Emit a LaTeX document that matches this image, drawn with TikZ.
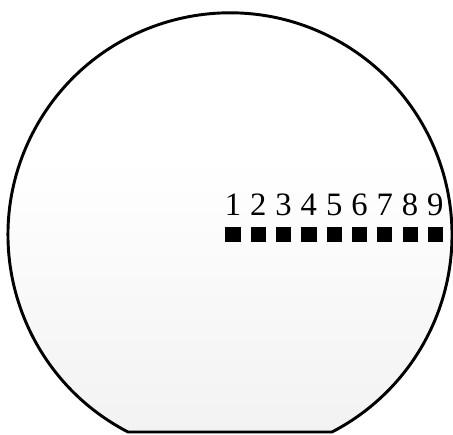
\documentclass[tikz,border=0pt]{standalone}
\usepackage{fontspec}
\setmainfont{Liberation Serif}
\usetikzlibrary{fadings}
\tikzset{
  wafer/.style={draw=black, line width=2.2pt},
  die/.style={fill=black, draw=none, minimum size=11.4pt, inner sep=0pt},
  dienum/.style={font=\fontsize{24.5}{24.5}\selectfont, inner sep=0pt}
}
\begin{document}
\begin{tikzpicture}[x=0.75pt,y=-0.75pt]
\useasboundingbox (0,0) rectangle (453,435);
% wafer outline with bottom flat
\begin{scope}
\clip (128,432) arc[start angle=117.35, end angle=422.65, radius=222] -- cycle;
\fill[black!5, path fading=north] (0,160) rectangle (453,435);
\end{scope}
\draw[wafer] (128,432) arc[start angle=117.35, end angle=422.65, radius=222] -- cycle;
\foreach \i in {1,...,9}{
  \node[die] (s\i) at ({233+25.3*(\i-1)},234.5) {};
  \node[dienum, anchor=base] (n\i) at ({233+25.3*(\i-1)},215) {\i};
}
\end{tikzpicture}
\end{document}
